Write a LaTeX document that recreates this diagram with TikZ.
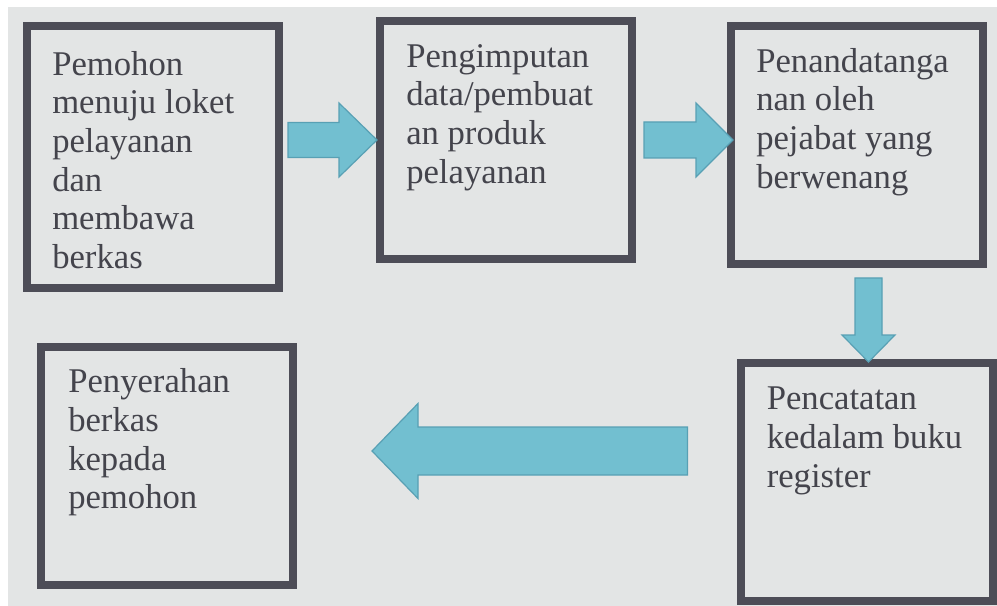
\documentclass[tikz,border=0pt]{standalone}
\usepackage{fontspec}
\setmainfont{Liberation Serif}
\usepackage{tikz}
\usetikzlibrary{positioning,calc}

\definecolor{paper}{RGB}{227,229,229}
\definecolor{boxline}{RGB}{77,77,87}
\definecolor{inktext}{RGB}{68,68,76}
\definecolor{flowfill}{RGB}{114,191,208}
\definecolor{flowline}{RGB}{88,160,180}

% block arrow: start, tip, shaft half width, head half width, head length (px)
\newcommand{\flowarrow}[5]{%
  \filldraw[flow] ($(#1)!{#3*0.75pt}!90:(#2)$)
    -- ($(#2)!{#5*0.75pt}!(#1)!{#3*0.75pt}!-90:(#1)$)
    -- ($(#2)!{#5*0.75pt}!(#1)!{#4*0.75pt}!-90:(#1)$)
    -- (#2)
    -- ($(#2)!{#5*0.75pt}!(#1)!{#4*0.75pt}!90:(#1)$)
    -- ($(#2)!{#5*0.75pt}!(#1)!{#3*0.75pt}!90:(#1)$)
    -- ($(#1)!{#3*0.75pt}!-90:(#2)$) -- cycle;}

\begin{document}
\begin{tikzpicture}[
    x=0.75pt, y=-0.75pt,
    procbox/.style={draw=boxline, line width=6pt, fill=paper, inner sep=0pt,
        minimum width=189pt, minimum height=178.5pt},
    txt/.style={anchor=north west, align=left, inner sep=0pt, text=inktext,
        font=\fontsize{26}{29}\selectfont},
    flow/.style={fill=flowfill, draw=flowline, line width=0.9pt, line join=miter}
]
    \useasboundingbox (0,0) rectangle (997,606);
    \fill[white] (0,0) rectangle (997,606);
    \fill[paper] (8,7) rectangle (997,606);

    % process boxes
    \node [procbox, minimum height=196.5pt] (p1) at (153,157) {};
    \node [procbox] (p2) at (506,140) {};
    \node [procbox] (p3) at (857,145) {};
    \node [procbox] (p4) at (167,465.5) {};
    \node [procbox] (p5) at (866.5,482) {};

    \node [txt] (t1) at ($(p1.north west)+(29,29)$) {Pemohon\\menuju loket\\pelayanan\\dan\\membawa\\berkas};
    \node [txt] (t2) at ($(p2.north west)+(30,27)$) {Pengimputan\\data/pembuat\\an produk\\pelayanan};
    \node [txt] (t3) at ($(p3.north west)+(29,26)$) {Penandatanga\\nan oleh\\pejabat yang\\berwenang};
    \node [txt] (t4) at ($(p4.north west)+(31,26)$) {Penyerahan\\berkas\\kepada\\pemohon};
    \node [txt] (t5) at ($(p5.north west)+(30,28)$) {Pencatatan\\kedalam buku\\register};

    % arrow ends
    \coordinate (a1) at ($(p1.east |- p2.west)+(5,0)$);
    \coordinate (b1) at ($(p2.west)+(1,0)$);
    \coordinate (a2) at ($(p2.east)+(8,0)$);
    \coordinate (b2) at ($(p3.west |- p2.east)+(6,0)$);
    \coordinate (a3) at ($(p3.south -| p5.north)+(2,10)$);
    \coordinate (b3) at ($(p5.north)+(2,3)$);
    \coordinate (a4) at ($(p5.west)+(-49,-31)$);
    \coordinate (b4) at ($(p4.east |- p5.west)+(75,-31)$);

    \flowarrow{a1}{b1}{17.5}{37}{38}
    \flowarrow{a2}{b2}{18}{37}{37}
    \flowarrow{a3}{b3}{13.5}{26.5}{27}
    \flowarrow{a4}{b4}{24}{47.5}{46}
\end{tikzpicture}
\end{document}
